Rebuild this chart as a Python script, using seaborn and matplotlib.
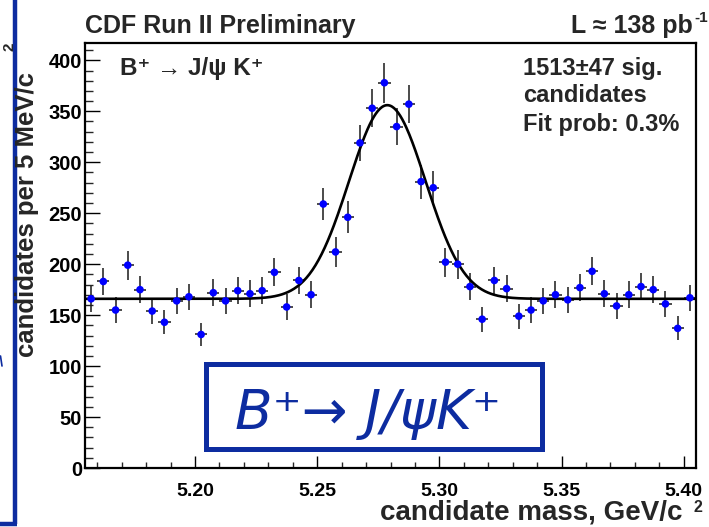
import numpy as np
import pandas as pd
import matplotlib
matplotlib.use("Agg")
import matplotlib.pyplot as plt
import seaborn as sns
from matplotlib.lines import Line2D
from matplotlib.patches import Rectangle
from matplotlib.ticker import MultipleLocator, FixedLocator, FixedFormatter

# ---------------- data ----------------
mass = [5.1575, 5.1625, 5.1675, 5.1725, 5.1775, 5.1825, 5.1875, 5.1925, 5.1975, 5.2025,
        5.2075, 5.2125, 5.2175, 5.2225, 5.2275, 5.2325, 5.2375, 5.2425, 5.2475, 5.2525,
        5.2575, 5.2625, 5.2675, 5.2725, 5.2775, 5.2825, 5.2875, 5.2925, 5.2975, 5.3025,
        5.3075, 5.3125, 5.3175, 5.3225, 5.3275, 5.3325, 5.3375, 5.3425, 5.3475, 5.3525,
        5.3575, 5.3625, 5.3675, 5.3725, 5.3775, 5.3825, 5.3875, 5.3925, 5.3975, 5.4025]
counts = [166, 183, 155, 199, 175, 154, 143, 164, 168, 131,
          172, 164, 174, 171, 174, 192, 158, 184, 170, 259,
          212, 246, 319, 353, 378, 335, 357, 281, 275, 202,
          200, 178, 146, 184, 176, 149, 155, 164, 170, 165,
          177, 193, 171, 159, 170, 178, 175, 161, 137, 167]
half_bin = 0.0025

# fit parameters (gaussian + flat background)
fit_bkg = 166.0
fit_amp = 190.0
fit_mean = 5.2787
fit_sigma = 0.0157

x_ticks = [5.20, 5.25, 5.30, 5.35, 5.40]
x_tick_labels = ["5.20", "5.25", "5.30", "5.35", "5.40"]
y_ticks = [0, 50, 100, 150, 200, 250, 300, 350, 400]
y_tick_labels = ["0", "50", "100", "150", "200", "250", "300", "350", "400"]
x_range = (5.155, 5.405)
y_range = (0, 417)

# ---------------- style ----------------
sns.set_style("ticks")
plt.rcParams["font.family"] = ["Liberation Sans", "DejaVu Sans"]
plt.rcParams["font.weight"] = "bold"

W, H = 709, 527
fig = plt.figure(figsize=(W / 100, H / 100), dpi=100)
fig.patch.set_facecolor("white")


def fx(x):
    return x / W


def fy(y):
    return 1 - y / H


ax_l, ax_r, ax_t, ax_b = 85, 696, 43, 468
ax = fig.add_axes([fx(ax_l), fy(ax_b), (ax_r - ax_l) / W, (ax_b - ax_t) / H])
ax.set_facecolor("white")

df = pd.DataFrame({"mass": mass, "count": counts})
df["err"] = np.sqrt(df["count"])

ax.errorbar(df["mass"], df["count"], yerr=df["err"], xerr=half_bin, fmt="none",
            ecolor="#1a1a1a", elinewidth=1.1, capsize=0, zorder=2)

xfit = np.linspace(x_range[0], x_range[1], 600)
yfit = fit_bkg + fit_amp * np.exp(-0.5 * ((xfit - fit_mean) / fit_sigma) ** 2)
sns.lineplot(x=xfit, y=yfit, ax=ax, color="black", linewidth=1.9, zorder=3, legend=False)

sns.scatterplot(data=df, x="mass", y="count", ax=ax, color="#0000ff", s=30,
                edgecolor="none", linewidth=0, zorder=4, legend=False)

ax.set_xlim(*x_range)
ax.set_ylim(*y_range)
ax.set_xlabel("")
ax.set_ylabel("")

ax.xaxis.set_major_locator(FixedLocator(x_ticks))
ax.xaxis.set_major_formatter(FixedFormatter(x_tick_labels))
ax.xaxis.set_minor_locator(MultipleLocator(0.01))
ax.yaxis.set_major_locator(FixedLocator(y_ticks))
ax.yaxis.set_major_formatter(FixedFormatter(y_tick_labels))
ax.yaxis.set_minor_locator(MultipleLocator(10))

for s in ax.spines.values():
    s.set_visible(True)
    s.set_linewidth(1.6)
    s.set_color("black")

ax.tick_params(axis="x", which="major", direction="in", length=8.6, width=1.0,
               pad=11, labelsize=14, top=False, colors="black")
ax.tick_params(axis="x", which="minor", direction="in", length=4.3, width=1.0, top=False)
ax.tick_params(axis="y", which="major", direction="in", length=10.8, width=1.0,
               pad=2, labelsize=14.5, right=False, colors="black")
ax.tick_params(axis="y", which="minor", direction="in", length=5.4, width=1.0, right=False)
for lab in ax.get_xticklabels() + ax.get_yticklabels():
    lab.set_fontweight("bold")

# ---------------- texts ----------------
fig.text(fx(85), fy(33), "CDF Run II Preliminary", fontsize=18, fontweight="bold",
         ha="left", va="baseline")
fig.text(fx(693), fy(33), "L \u2248 138 pb", fontsize=18, fontweight="bold",
         ha="right", va="baseline")
fig.text(fx(694), fy(22), "-1", fontsize=11, fontweight="bold", ha="left", va="baseline")

fig.text(fx(120), fy(75), "B\u207a \u2192 J/\u03c8 K\u207a", fontsize=17.5, fontweight="bold",
         ha="left", va="baseline")
fig.text(fx(523), fy(75), "1513\u00b147 sig.", fontsize=17, fontweight="bold",
         ha="left", va="baseline")
fig.text(fx(523), fy(102), "candidates", fontsize=17, fontweight="bold",
         ha="left", va="baseline")
fig.text(fx(523), fy(131), "Fit prob: 0.3%", fontsize=17, fontweight="bold",
         ha="left", va="baseline")

fig.text(fx(683), fy(520), "candidate mass, GeV/c", fontsize=20, fontweight="bold",
         ha="right", va="baseline")
fig.text(fx(693), fy(512), "2", fontsize=11.5, fontweight="bold", ha="left", va="baseline")

fig.text(fx(27), fy(357), "candidates per 5 MeV/c", fontsize=18.5, fontweight="bold",
         rotation=90, ha="center", va="bottom")
fig.text(fx(9), fy(47), "2", fontsize=11, fontweight="bold", rotation=90,
         ha="center", va="center")

# ---------------- blue slide decorations ----------------
blue = "#0d2ca0"
fig.lines.append(Line2D([fx(14.5), fx(14.5)], [fy(0), fy(524)], transform=fig.transFigure,
                        color=blue, linewidth=3.2, solid_capstyle="butt"))
fig.lines.append(Line2D([fx(0), fx(16.5)], [fy(524), fy(524)], transform=fig.transFigure,
                        color=blue, linewidth=3.2, solid_capstyle="butt"))
fig.lines.append(Line2D([fx(0.5), fx(2)], [fy(356), fy(366)], transform=fig.transFigure,
                        color=blue, linewidth=1.2))

box = Rectangle((fx(205.5), fy(448.5)), (541.5 - 205.5) / W, (448.5 - 363.5) / H,
                transform=fig.transFigure, facecolor="white", edgecolor=blue,
                linewidth=3.6, zorder=10)
fig.patches.append(box)
fig.text(fx(368), fy(429), "B\u207a\u2192 J/\u03c8K\u207a", fontsize=39.5, color=blue,
         family="DejaVu Sans", style="italic", fontweight="normal",
         ha="center", va="baseline", zorder=11)

fig.savefig("out.png", dpi=100, facecolor="white")
